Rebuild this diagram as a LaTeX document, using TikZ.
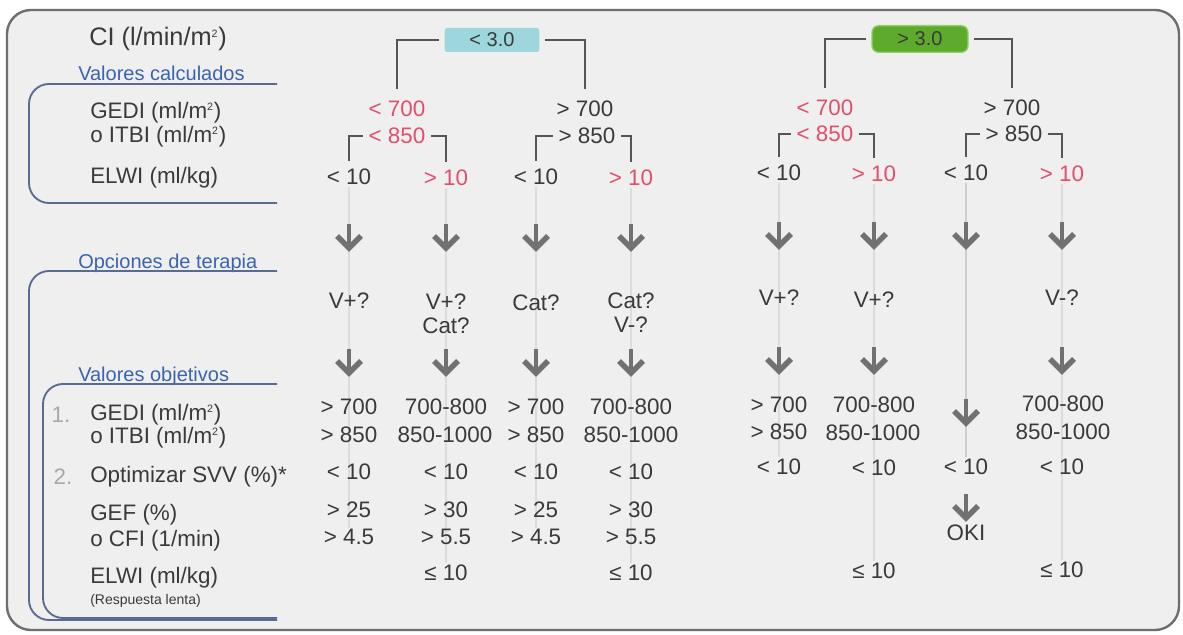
\documentclass[tikz,border=0pt]{standalone}
\usepackage{fontspec}
\setmainfont{Liberation Sans}
\definecolor{txt}{HTML}{3A3A3A}
\definecolor{redc}{HTML}{E0506E}
\definecolor{bluet}{HTML}{3B63B0}
\definecolor{brkc}{HTML}{5A6B90}
\definecolor{treec}{HTML}{555555}
\definecolor{arrc}{HTML}{717171}
\definecolor{faintc}{HTML}{DCDCDC}
\definecolor{panelc}{HTML}{EFEFEF}
\definecolor{panelb}{HTML}{6E6E6E}
\definecolor{cyanc}{HTML}{9ED6DD}
\definecolor{greenc}{HTML}{5DAA2C}
\definecolor{greenl}{HTML}{93D262}
\definecolor{numc}{HTML}{A8A8A8}
\pgfdeclarelayer{back}
\pgfdeclarelayer{mid}
\pgfsetlayers{back,mid,main}
\newcommand{\sqm}{m\textsuperscript{\fontsize{8}{8}\selectfont 2}}
\tikzset{
  val/.style={font=\fontsize{16.8}{18}\selectfont, text=txt, inner sep=1pt, align=center},
  redv/.style={val, text=redc},
  lbl/.style={font=\fontsize{16.8}{18}\selectfont, text=txt, anchor=west, inner sep=0pt},
  smalllbl/.style={font=\fontsize{10.5}{12}\selectfont, text=txt, anchor=west, inner sep=0pt},
  numlbl/.style={font=\fontsize{16.8}{18}\selectfont, text=numc, inner sep=0pt},
  sec/.style={font=\fontsize{15}{17}\selectfont, text=bluet, anchor=base west, inner sep=0pt},
  titlelbl/.style={font=\fontsize{19}{20}\selectfont, text=txt, anchor=west, inner sep=0pt},
  tree/.style={draw=treec, line width=2.2pt},
  brk/.style={draw=brkc, line width=1.4pt, rounded corners=15pt},
  faint/.style={draw=faintc, line width=1.1pt},
  boxa/.style={fill=cyanc, rounded corners=2pt, minimum width=71pt, minimum height=18pt, inner sep=0pt, font=\fontsize{15}{16}\selectfont, text=txt},
  boxb/.style={fill=greenc, draw=greenl, line width=1pt, rounded corners=5pt, minimum width=72pt, minimum height=20pt, inner sep=0pt, font=\fontsize{15}{16}\selectfont, text=txt},
  darrow/.pic={
    \draw[arrc, line width=3.5pt] (0,-14) -- (0,9);
    \draw[arrc, line width=4.2pt, line join=miter, miter limit=10] (-12,-2) -- (0,10) -- (12,-2);
  }
}
\begin{document}
\begin{tikzpicture}[x=0.75pt,y=-0.75pt]
\useasboundingbox (0,0) rectangle (1183,635);
\begin{pgfonlayer}{back}
  \fill[white] (0,0) rectangle (1183,635);
  \draw[draw=panelb, fill=panelc, line width=1.8pt, rounded corners=18pt] (7,10) rectangle (1179,630);
\end{pgfonlayer}

% title and section labels
\node[titlelbl] (ci) at (89,39) {CI (l/min/\sqm)};
\node[sec] (vc) at (78,81) {Valores calculados};
\node[sec] (ot) at (78,268) {Opciones de terapia};
\node[sec] (vo) at (78,381) {Valores objetivos};

% brackets
\coordinate (vcA) at (277,84);  \coordinate (vcB) at (277,203);
\coordinate (otA) at (277,271); \coordinate (otB) at (277,620);
\coordinate (voA) at (277,384); \coordinate (voB) at (277,618);
\draw[brk] (vcA) -- (29,84) -- (29,203) -- (vcB);
\draw[brk] (otA) -- (29,271) -- (29,620) -- (otB);
\draw[brk] (voA) -- (43,384) -- (43,618) -- (voB);

% row labels
\node[lbl] (l1) at (90,113) {GEDI (ml/\sqm)};
\node[lbl] (l2) at (90,137) {o ITBI (ml/\sqm)};
\node[lbl] (l3) at (90,178) {ELWI (ml/kg)};
\node[numlbl] (n1) at (61,415) {1.};
\node[lbl] (l4) at (90,415) {GEDI (ml/\sqm)};
\node[lbl] (l5) at (90,438) {o ITBI (ml/\sqm)};
\node[numlbl] (n2) at (63,477) {2.};
\node[lbl] (l6) at (90,477) {Optimizar SVV (\%)*};
\node[lbl] (l7) at (90,515) {GEF (\%)};
\node[lbl] (l8) at (90,541) {o CFI (1/min)};
\node[lbl] (l9) at (90,578) {ELWI (ml/kg)};
\node[smalllbl] (l10) at (90,601) {(Respuesta lenta)};

% CI boxes
\node[boxa] (bx1) at (492,40) {< 3.0};
\node[boxb] (bx2) at (920,39) {> 3.0};

% GEDI / ITBI level
\node[redv] (a700) at (397,109) {< 700};
\node[redv] (a850) at (397,136) {< 850};
\node[val]  (b700) at (585,109) {> 700};
\node[val]  (b850) at (587,136) {> 850};
\node[redv] (c700) at (825,108) {< 700};
\node[redv] (c850) at (825,134) {< 850};
\node[val]  (d700) at (1012,108) {> 700};
\node[val]  (d850) at (1014,134) {> 850};

% ELWI level
\node[val]  (t1) at (349,177) {< 10};
\node[redv] (t2) at (446,178) {> 10};
\node[val]  (t3) at (536,177) {< 10};
\node[redv] (t4) at (631,178) {> 10};
\node[val]  (t5) at (779,173) {< 10};
\node[redv] (t6) at (874,174) {> 10};
\node[val]  (t7) at (966,173) {< 10};
\node[redv] (t8) at (1062,174) {> 10};

% tree lines
\draw[tree, shorten <=4pt, shorten >=8pt] (bx1.west) -| (a700.north);
\draw[tree, shorten <=4pt, shorten >=8pt] (bx1.east) -| (b700.north);
\draw[tree, shorten <=4pt, shorten >=8pt] (bx2.west) -| (c700.north);
\draw[tree, shorten <=4pt, shorten >=8pt] (bx2.east) -| (d700.north);
\draw[tree, shorten <=3pt, shorten >=5pt] (a850.west) -| (t1.north);
\draw[tree, shorten <=3pt, shorten >=5pt] (a850.east) -| (t2.north);
\draw[tree, shorten <=3pt, shorten >=5pt] (b850.west) -| (t3.north);
\draw[tree, shorten <=3pt, shorten >=5pt] (b850.east) -| (t4.north);
\draw[tree, shorten <=3pt, shorten >=5pt] (c850.west) -| (t5.north);
\draw[tree, shorten <=3pt, shorten >=5pt] (c850.east) -| (t6.north);
\draw[tree, shorten <=3pt, shorten >=5pt] (d850.west) -| (t7.north);
\draw[tree, shorten <=3pt, shorten >=5pt] (d850.east) -| (t8.north);

% first arrows
\coordinate (p1) at (349,238);  \coordinate (p2) at (446,238);
\coordinate (p3) at (536,238);  \coordinate (p4) at (631,238);
\coordinate (p5) at (779,236);  \coordinate (p6) at (874,236);
\coordinate (p7) at (966,236);  \coordinate (p8) at (1062,236);
\foreach \p in {p1,p2,p3,p4,p5,p6,p7,p8} { \pic at (\p) {darrow}; }

% therapy
\node[val] (th1) at (349,301) {V+?};
\node[val] (th2) at (446,314) {V+?\\Cat?};
\node[val] (th3) at (536,303) {Cat?};
\node[val] (th4) at (631,313) {Cat?\\V-?};
\node[val] (th5) at (779,298) {V+?};
\node[val] (th6) at (874,300) {V+?};
\node[val] (th8) at (1062,298) {V-?};

% second arrows
\coordinate (q1) at (349,363);  \coordinate (q2) at (446,363);
\coordinate (q3) at (536,363);  \coordinate (q4) at (631,363);
\coordinate (q5) at (779,361);  \coordinate (q6) at (874,361);
\coordinate (q7) at (966,413);  \coordinate (q8) at (1062,361);
\coordinate (q9) at (966,508);
\foreach \p in {q1,q2,q3,q4,q5,q6,q7,q8,q9} { \pic at (\p) {darrow}; }

% target values, column 1
\node[val] (v11) at (349,407) {> 700};
\node[val] (v12) at (349,435) {> 850};
\node[val] (v13) at (349,472) {< 10};
\node[val] (v14) at (349,510) {> 25};
\node[val] (v15) at (349,537) {> 4.5};
% column 2
\node[val] (v21) at (446,407) {700-800};
\node[val] (v22) at (445,435) {850-1000};
\node[val] (v23) at (446,472) {< 10};
\node[val] (v24) at (446,510) {> 30};
\node[val] (v25) at (446,537) {> 5.5};
\node[val] (v26) at (446,573) {≤ 10};
% column 3
\node[val] (v31) at (536,407) {> 700};
\node[val] (v32) at (536,435) {> 850};
\node[val] (v33) at (536,472) {< 10};
\node[val] (v34) at (536,510) {> 25};
\node[val] (v35) at (536,537) {> 4.5};
% column 4
\node[val] (v41) at (631,407) {700-800};
\node[val] (v42) at (631,435) {850-1000};
\node[val] (v43) at (631,472) {< 10};
\node[val] (v44) at (631,510) {> 30};
\node[val] (v45) at (631,537) {> 5.5};
\node[val] (v46) at (631,573) {≤ 10};
% column 5
\node[val] (v51) at (779,405) {> 700};
\node[val] (v52) at (779,432) {> 850};
\node[val] (v53) at (779,467) {< 10};
% column 6
\node[val] (v61) at (874,405) {700-800};
\node[val] (v62) at (873,433) {850-1000};
\node[val] (v63) at (874,468) {< 10};
\node[val] (v66) at (874,571) {≤ 10};
% column 7
\node[val] (v73) at (966,467) {< 10};
\node[val] (v77) at (966,533) {OKI};
% column 8
\node[val] (v81) at (1063,404) {700-800};
\node[val] (v82) at (1063,432) {850-1000};
\node[val] (v83) at (1062,467) {< 10};
\node[val] (v86) at (1062,570) {≤ 10};

% faint guide lines
\begin{pgfonlayer}{mid}
  \draw[faint] (t1.south) -- (v15.north);
  \draw[faint] (t2.south) -- (v26.north);
  \draw[faint] (t3.south) -- (v35.north);
  \draw[faint] (t4.south) -- (v46.north);
  \draw[faint] (t5.south) -- (v53.north);
  \draw[faint] (t6.south) -- (v66.north);
  \draw[faint, draw=faintc!85!gray] (t7.south) -- (v73.north);
  \draw[faint] (t8.south) -- (v86.north);
\end{pgfonlayer}
\end{tikzpicture}
\end{document}
